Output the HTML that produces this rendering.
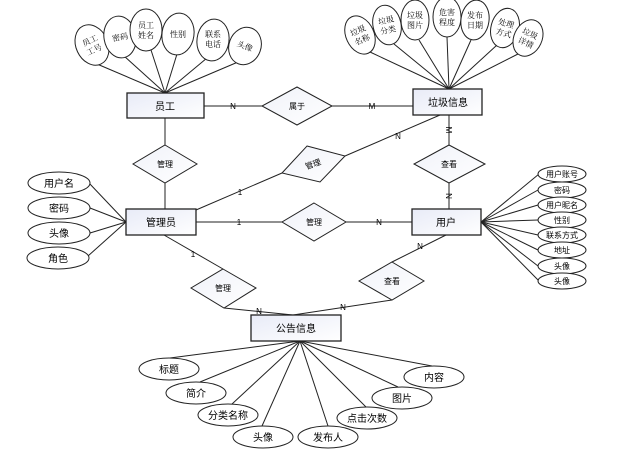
<!DOCTYPE html>
<html><head><meta charset="utf-8"><style>
html,body{margin:0;padding:0;background:#fff;}
svg{display:block;}
text{font-family:"Liberation Sans","Noto Sans CJK SC",sans-serif;fill:#000;}
.sf text{font-family:"Liberation Serif","Noto Serif CJK SC",serif;}
</style></head><body>
<svg width="637" height="454" viewBox="0 0 637 454" xmlns="http://www.w3.org/2000/svg">
<defs>
<linearGradient id="g" x1="0" y1="0" x2="1" y2="1"><stop offset="0" stop-color="#e8ebf7"/><stop offset="1" stop-color="#ffffff"/></linearGradient>
<linearGradient id="d" x1="0" y1="0" x2="1" y2="1"><stop offset="0" stop-color="#f0f2f9"/><stop offset="1" stop-color="#ffffff"/></linearGradient>
</defs>
<g stroke="#222" stroke-width="1" fill="none">
<line x1="165" y1="93" x2="97" y2="64"/><line x1="165" y1="93" x2="124" y2="56"/>
<line x1="165" y1="93" x2="151" y2="50"/><line x1="165" y1="93" x2="177" y2="54"/>
<line x1="165" y1="93" x2="207" y2="58"/><line x1="165" y1="93" x2="238" y2="62"/>
<line x1="449" y1="89" x2="370" y2="52"/><line x1="449" y1="89" x2="394" y2="44"/>
<line x1="449" y1="89" x2="419" y2="40"/><line x1="449" y1="89" x2="447" y2="37"/>
<line x1="449" y1="89" x2="471" y2="40"/><line x1="449" y1="89" x2="497" y2="45"/>
<line x1="449" y1="89" x2="518" y2="54"/>
<line x1="481" y1="222" x2="539" y2="174"/><line x1="481" y1="222" x2="538" y2="190"/>
<line x1="481" y1="222" x2="538" y2="205"/><line x1="481" y1="222" x2="538" y2="220"/>
<line x1="481" y1="222" x2="538" y2="235"/><line x1="481" y1="222" x2="538" y2="250"/>
<line x1="481" y1="222" x2="538" y2="266"/><line x1="481" y1="222" x2="539" y2="281"/>
<line x1="126" y1="222" x2="89" y2="183"/><line x1="126" y1="222" x2="90" y2="208"/>
<line x1="126" y1="222" x2="90" y2="233"/><line x1="126" y1="222" x2="88" y2="256"/>
<line x1="300" y1="341" x2="170" y2="358"/><line x1="300" y1="341" x2="200" y2="382"/>
<line x1="300" y1="341" x2="232" y2="404"/><line x1="300" y1="341" x2="262" y2="426"/>
<line x1="300" y1="341" x2="328" y2="426"/><line x1="300" y1="341" x2="366" y2="407"/>
<line x1="300" y1="341" x2="398" y2="387"/><line x1="300" y1="341" x2="432" y2="366"/>
<line x1="204" y1="106" x2="262" y2="106"/><line x1="332" y1="106" x2="413" y2="106"/>
<line x1="165" y1="118" x2="165" y2="145"/><line x1="165" y1="183" x2="165" y2="209"/>
<line x1="196" y1="210" x2="282" y2="173"/><line x1="345" y1="156" x2="440" y2="115"/>
<line x1="196" y1="222" x2="282" y2="222"/><line x1="346" y1="222" x2="412" y2="222"/>
<line x1="449" y1="115" x2="449" y2="145"/><line x1="449" y1="183" x2="449" y2="209"/>
<line x1="164" y1="235" x2="223" y2="269"/><line x1="224" y1="308" x2="293" y2="315"/>
<line x1="392" y1="300" x2="293" y2="315"/><line x1="392" y1="262" x2="446" y2="235"/>
</g>
<g stroke="#222" stroke-width="1" fill="#fff">
<ellipse cx="92" cy="45" rx="16" ry="21" transform="rotate(-25 92 45)"/>
<ellipse cx="120" cy="37" rx="16" ry="21" transform="rotate(-10 120 37)"/>
<ellipse cx="146" cy="30" rx="16" ry="21"/>
<ellipse cx="178" cy="34" rx="16" ry="21" transform="rotate(8 178 34)"/>
<ellipse cx="213" cy="40" rx="16" ry="21" transform="rotate(8 213 40)"/>
<ellipse cx="245" cy="46" rx="16" ry="19" transform="rotate(20 245 46)"/>
<ellipse cx="360" cy="35" rx="14" ry="20" transform="rotate(-25 360 35)"/>
<ellipse cx="387" cy="25" rx="14" ry="20" transform="rotate(-12 387 25)"/>
<ellipse cx="415" cy="20" rx="14" ry="20"/>
<ellipse cx="447" cy="17" rx="14" ry="20"/>
<ellipse cx="475" cy="20" rx="14" ry="20" transform="rotate(8 475 20)"/>
<ellipse cx="505" cy="28" rx="14" ry="20" transform="rotate(15 505 28)"/>
<ellipse cx="528" cy="38" rx="14" ry="19" transform="rotate(25 528 38)"/>
<ellipse cx="562" cy="174" rx="24" ry="8"/><ellipse cx="562" cy="190" rx="24" ry="8"/>
<ellipse cx="562" cy="205" rx="24" ry="8"/><ellipse cx="562" cy="220" rx="24" ry="8"/>
<ellipse cx="562" cy="235" rx="24" ry="8"/><ellipse cx="562" cy="250" rx="24" ry="8"/>
<ellipse cx="562" cy="266" rx="24" ry="8"/><ellipse cx="562" cy="281" rx="24" ry="8"/>
<ellipse cx="59" cy="183" rx="31" ry="11"/><ellipse cx="59" cy="208" rx="31" ry="11"/>
<ellipse cx="59" cy="233" rx="31" ry="11"/><ellipse cx="58" cy="258" rx="31" ry="11"/>
<ellipse cx="169" cy="369" rx="30" ry="11"/><ellipse cx="196" cy="393" rx="30" ry="11"/>
<ellipse cx="228" cy="415" rx="30" ry="11"/><ellipse cx="263" cy="437" rx="30" ry="11"/>
<ellipse cx="328" cy="437" rx="30" ry="11"/><ellipse cx="367" cy="418" rx="30" ry="11"/>
<ellipse cx="402" cy="398" rx="30" ry="11"/><ellipse cx="434" cy="377" rx="30" ry="11"/>
</g>
<g stroke="#222" stroke-width="1.3" fill="url(#g)">
<rect x="127" y="93" width="77" height="25"/>
<rect x="413" y="89" width="69" height="26"/>
<rect x="126" y="209" width="70" height="26"/>
<rect x="412" y="209" width="69" height="26"/>
<rect x="251" y="315" width="90" height="26"/>
</g>
<g stroke="#222" stroke-width="1" fill="url(#d)">
<polygon points="297,87 332,106 297,125 262,106"/>
<polygon points="165,145 197,164 165,183 133,164"/>
<polygon points="307,146 345,156 320,182 282,173"/>
<polygon points="449,145 485,164 449,183 414,164"/>
<polygon points="314,203 346,222 314,241 282,222"/>
<polygon points="223,269 256,288 224,308 191,288"/>
<polygon points="392,262 424,281 392,300 359,281"/>
</g>
<g font-size="8" text-anchor="middle" class="sf">
<text x="92" y="43" transform="rotate(-25 92 45)">员工</text><text x="92" y="53" transform="rotate(-25 92 45)">工号</text>
<text x="120" y="40" transform="rotate(-10 120 37)">密码</text>
<text x="146" y="28">员工</text><text x="146" y="38">姓名</text>
<text x="178" y="37">性别</text>
<text x="213" y="37">联系</text><text x="213" y="47">电话</text>
<text x="245" y="49" transform="rotate(20 245 46)">头像</text>
<text x="360" y="33" transform="rotate(-25 360 35)">垃圾</text><text x="360" y="43" transform="rotate(-25 360 35)">名称</text>
<text x="387" y="23" transform="rotate(-12 387 25)">垃圾</text><text x="387" y="33" transform="rotate(-12 387 25)">分类</text>
<text x="415" y="18">垃圾</text><text x="415" y="28">图片</text>
<text x="447" y="15">危害</text><text x="447" y="25">程度</text>
<text x="475" y="18">发布</text><text x="475" y="28">日期</text>
<text x="505" y="26" transform="rotate(15 505 28)">处理</text><text x="505" y="36" transform="rotate(15 505 28)">方式</text>
<text x="528" y="36" transform="rotate(25 528 38)">垃圾</text><text x="528" y="46" transform="rotate(25 528 38)">详情</text>
</g>
<g font-size="8" text-anchor="middle">
<text x="562" y="177">用户账号</text><text x="562" y="193">密码</text><text x="562" y="208">用户昵名</text>
<text x="562" y="223">性别</text><text x="562" y="238">联系方式</text><text x="562" y="253">地址</text>
<text x="562" y="269">头像</text><text x="562" y="284">头像</text>
<text x="297" y="109">属于</text><text x="165" y="167">管理</text>
<text x="313" y="167" transform="rotate(-20 313 164)">管理</text>
<text x="449" y="167">查看</text><text x="314" y="225">管理</text>
<text x="223" y="291">管理</text><text x="392" y="284">查看</text>
<text x="233" y="109">N</text><text x="372" y="109">M</text>
<text x="398" y="139">N</text><text x="449" y="133" transform="rotate(90 449 130)">M</text><text x="449" y="199" transform="rotate(90 449 196)">N</text>
<text x="240" y="195">1</text><text x="239" y="225">1</text><text x="379" y="225">N</text>
<text x="193" y="257">1</text><text x="259" y="314">N</text><text x="343" y="310">N</text><text x="420" y="249">N</text>
</g>
<g font-size="10" text-anchor="middle">
<text x="165" y="110">员工</text><text x="448" y="106">垃圾信息</text>
<text x="161" y="226">管理员</text><text x="446" y="226">用户</text><text x="296" y="332">公告信息</text>
<text x="59" y="187">用户名</text><text x="59" y="212">密码</text><text x="59" y="237">头像</text><text x="58" y="262">角色</text>
<text x="169" y="373">标题</text><text x="196" y="397">简介</text><text x="228" y="419">分类名称</text>
<text x="263" y="441">头像</text><text x="328" y="441">发布人</text><text x="367" y="422">点击次数</text>
<text x="402" y="402">图片</text><text x="434" y="381">内容</text>
</g>
</svg>
</body></html>
